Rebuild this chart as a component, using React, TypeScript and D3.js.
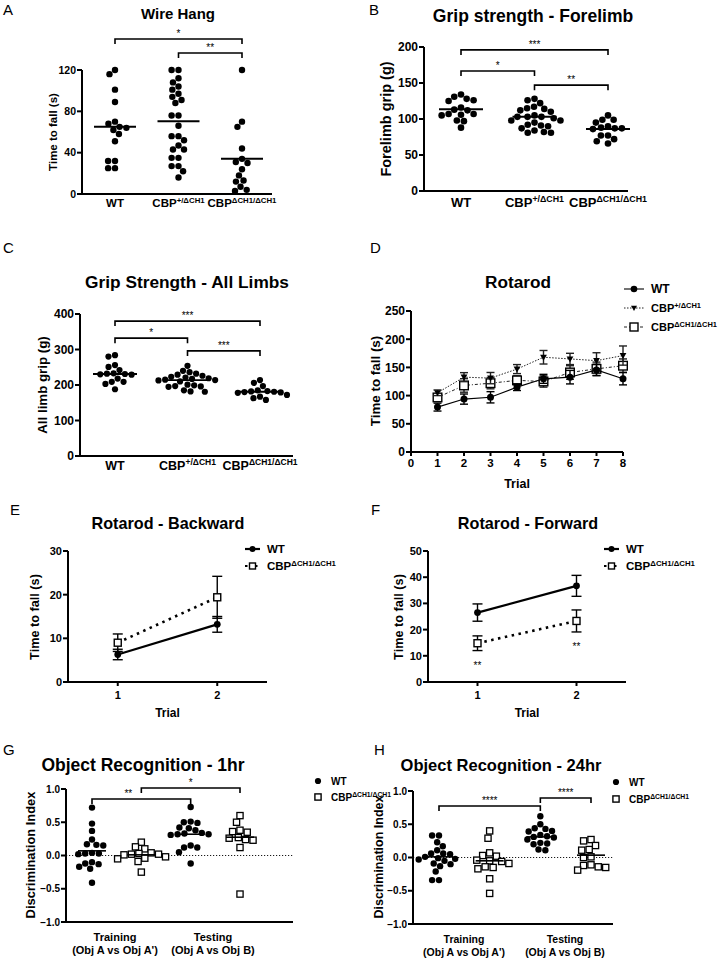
import React from "react";
import * as d3 from "d3";

const FONT = "'Liberation Sans', Arial, Helvetica, sans-serif";

// ---------- Data ----------
const genotypeBase = ["WT", "CBP", "CBP"];
const genotypeSup = ["", "+/ΔCH1", "ΔCH1/ΔCH1"];

// A: Wire hang (s)
const wireHangWT = [120, 116, 101, 89, 70, 68, 65, 64, 62, 58, 51, 32, 32, 25, 25];
const wireHangHet = [120, 120, 112, 108, 104, 101, 97, 94, 91, 88, 76, 76, 66, 56, 56, 52, 47, 43, 43, 35, 35, 27, 27, 22, 16];
const wireHangHom = [120, 70, 65, 44, 34, 31, 30, 24, 18, 13, 12, 7, 4, 3];
const wireHangMedian = [65, 70.5, 34];
const wireHangTicks = [0, 40, 80, 120];

// B: Forelimb grip (g)
const forelimbWT = [134, 131, 128, 126, 125, 116, 113, 112, 107, 107, 106, 105, 98, 97, 88];
const forelimbHet = [128, 126, 122, 117, 115, 114, 112, 110, 105, 103, 103, 103, 101, 98, 98, 95, 92, 91, 90, 87, 84, 82, 81, 81];
const forelimbHom = [105, 99, 99, 95, 90, 88, 87, 87, 86, 77, 77, 72, 69, 66];
const forelimbMedian = [113.5, 103, 86];
const forelimbTicks = [0, 50, 100, 150, 200];

// C: All limb grip (g)
const allLimbWT = [284, 280, 256, 251, 242, 233, 232, 231, 230, 229, 218, 209, 209, 203, 188];
const allLimbHet = [254, 240, 236, 232, 229, 226, 223, 221, 219, 217, 215, 214, 213, 210, 201, 199, 197, 196, 195, 185, 182, 181];
const allLimbHom = [214, 206, 197, 185, 183, 182, 181, 180, 179, 178, 172, 167, 163, 158];
const allLimbMedian = [231, 214, 181];
const allLimbTicks = [0, 100, 200, 300, 400];

// D: Rotarod
const rotarodTrials = [1, 2, 3, 4, 5, 6, 7, 8];
const rotarodWT = [79.6, 93.8, 97, 115, 129.7, 132.7, 145.6, 130];
const rotarodWTErr = [7, 9, 10, 6, 8, 12, 10, 11];
const rotarodHet = [105, 132.7, 131, 147, 168, 165, 162, 171];
const rotarodHetErr = [5, 8, 10, 8, 12, 10, 14, 17];
const rotarodHom = [96.7, 118, 122, 127, 125, 141, 147.4, 153];
const rotarodHomErr = [6, 12, 10, 8, 10, 12, 12, 12];
const rotarodYTicks = [0, 50, 100, 150, 200, 250];
const rotarodXTicks = [0, 1, 2, 3, 4, 5, 6, 7, 8];

// E: Rotarod backward
const shortTrials = [1, 2];
const backwardWT = [6.3, 13.2];
const backwardWTErr = [1.2, 1.8];
const backwardHom = [9, 19.4];
const backwardHomErr = [2, 4.8];
const backwardTicks = [0, 10, 20, 30];

// F: Rotarod forward
const forwardWT = [26.5, 36.7];
const forwardWTErr = [3.3, 4];
const forwardHom = [14.8, 23.3];
const forwardHomErr = [2.8, 4.2];
const forwardTicks = [0, 10, 20, 30, 40, 50];
const forwardSig = ["**", "**"];

// G: Object recognition 1 hr
const or1TrainWT = [0.72, 0.48, 0.37, 0.24, 0.17, 0.16, 0.15, 0.04, 0.03, 0.03, 0.02, -0.1, -0.12, -0.13, -0.17, -0.2, -0.41];
const or1TrainHom = [0.2, 0.13, 0.1, 0.04, 0.03, 0.02, 0.02, 0.01, -0.02, -0.04, -0.05, -0.09, -0.25];
const or1TestWT = [0.73, 0.51, 0.5, 0.49, 0.42, 0.41, 0.38, 0.34, 0.33, 0.32, 0.32, 0.31, 0.15, 0.12, 0.12, 0.05, -0.12];
const or1TestHom = [0.6, 0.5, 0.38, 0.36, 0.35, 0.27, 0.26, 0.24, 0.23, 0.12, -0.58];
const or1Median = [0.07, 0.01, 0.32, 0.275];

// H: Object recognition 24 hr
const or24TrainWT = [0.33, 0.33, 0.23, 0.17, 0.11, 0.06, 0.06, 0.05, 0.01, -0.01, -0.02, -0.03, -0.05, -0.09, -0.1, -0.13, -0.21, -0.34, -0.34];
const or24TrainHom = [0.4, 0.29, 0.07, 0.03, 0.02, -0.04, -0.05, -0.06, -0.09, -0.14, -0.15, -0.17, -0.32, -0.54];
const or24TestWT = [0.62, 0.5, 0.44, 0.43, 0.4, 0.39, 0.34, 0.32, 0.31, 0.3, 0.27, 0.22, 0.21, 0.2, 0.12, 0.11];
const or24TestHom = [0.27, 0.25, 0.18, 0.12, 0.11, 0.01, 0.0, -0.11, -0.12, -0.14, -0.15, -0.19];
const or24Median = [0.01, -0.05, 0.31, 0.035];
const orTicks = [-1.0, -0.5, 0.0, 0.5, 1.0];
const orPhase = ["Training", "Testing"];
const orPhaseSub = ["(Obj A vs Obj A')", "(Obj A vs Obj B)"];

// Significance brackets: [fromGroup, toGroup, level (data units), label, label dx]
const wireHangSig: [number, number, number, string, number][] = [[0, 2, 150, "*", 0], [1, 2, 136.5, "**", 0]];
const forelimbSig: [number, number, number, string, number][] = [[0, 2, 196, "***", 0], [0, 1, 166.7, "*", 0], [1, 2, 147, "**", 0]];
const allLimbSig: [number, number, number, string, number][] = [[0, 2, 380, "***", 0], [0, 1, 332, "*", 0], [1, 2, 296, "***", 0]];
const or1Sig: [number, number, number, string, number][] = [[0, 2, 0.85, "**", -13], [1, 3, 1.015, "*", 0]];
const or24Sig: [number, number, number, string, number][] = [[0, 2, 0.775, "****", 0], [2, 3, 0.895, "****", 0]];

// ---------- Helpers ----------
type Pt = { x: number; y: number };

function beeswarm(values: number[], y: (v: number) => number, cx: number, r: number): Pt[] {
  const d = 2 * r + 0.5;
  const placed: Pt[] = [];
  const out: Pt[] = new Array(values.length);
  const order = values.map((_, i) => i).sort((a, b) => values[b] - values[a]);
  for (const i of order) {
    const py = y(values[i]);
    const cands = [0];
    for (const p of placed) {
      const dy = Math.abs(p.y - py);
      if (dy < d) {
        const dx = Math.sqrt(d * d - dy * dy);
        cands.push(p.x - cx + dx, p.x - cx - dx);
      }
    }
    cands.sort((a, b) => Math.abs(a) - Math.abs(b) || a - b);
    let best = 0;
    for (const c of cands) {
      if (placed.every((p) => (p.x - (cx + c)) ** 2 + (p.y - py) ** 2 >= d * d - 0.01)) {
        best = c;
        break;
      }
    }
    const pt = { x: cx + best, y: py };
    placed.push(pt);
    out[i] = pt;
  }
  return out;
}

function Letter({ x, y, t }: { x: number; y: number; t: string }) {
  return (
    <text x={x} y={y} fontSize={15} fontFamily={FONT}>
      {t}
    </text>
  );
}

function Title({ x, y, t, size }: { x: number; y: number; t: string; size: number }) {
  return (
    <text x={x} y={y} fontSize={size} fontWeight="bold" textAnchor="middle" fontFamily={FONT}>
      {t}
    </text>
  );
}

function YLabel({ x, y, t, size }: { x: number; y: number; t: string; size: number }) {
  return (
    <text
      transform={`translate(${x},${y}) rotate(-90)`}
      fontSize={size}
      fontWeight="bold"
      textAnchor="middle"
      dy="0.35em"
      fontFamily={FONT}
    >
      {t}
    </text>
  );
}

function YAxis({
  scale,
  x,
  ticks,
  size,
  fmt,
}: {
  scale: d3.ScaleLinear<number, number>;
  x: number;
  ticks: number[];
  size: number;
  fmt: (v: number) => string;
}) {
  const [r0, r1] = scale.range();
  return (
    <g>
      <line x1={x} x2={x} y1={r0 + 1} y2={r1} stroke="#000" strokeWidth={2} />
      {ticks.map((t) => (
        <g key={t}>
          <line x1={x - 5} x2={x} y1={scale(t)} y2={scale(t)} stroke="#000" strokeWidth={2} />
          <text
            x={x - 6}
            y={scale(t)}
            dy="0.36em"
            textAnchor="end"
            fontSize={size}
            fontWeight="bold"
            fontFamily={FONT}
          >
            {fmt(t)}
          </text>
        </g>
      ))}
    </g>
  );
}

function XAxisLine({ x1, x2, y }: { x1: number; x2: number; y: number }) {
  return <line x1={x1 - 1} x2={x2} y1={y} y2={y} stroke="#000" strokeWidth={2} />;
}

function Geno({ x, y, i, size }: { x: number; y: number; i: number; size: number }) {
  return (
    <text x={x} y={y} fontSize={size} fontWeight="bold" textAnchor="middle" fontFamily={FONT}>
      {genotypeBase[i]}
      {genotypeSup[i] ? (
        <tspan fontSize={size * 0.68} dy={-size * 0.38}>
          {genotypeSup[i]}
        </tspan>
      ) : null}
    </text>
  );
}

function GenoStart({ x, y, i, size }: { x: number; y: number; i: number; size: number }) {
  return (
    <text x={x} y={y} fontSize={size} fontWeight="bold" fontFamily={FONT} dy="0.35em">
      {genotypeBase[i]}
      {genotypeSup[i] ? (
        <tspan fontSize={size * 0.68} dy={-size * 0.38}>
          {genotypeSup[i]}
        </tspan>
      ) : null}
    </text>
  );
}

function Brackets({
  sig,
  xs,
  y,
  leg,
  size,
}: {
  sig: [number, number, number, string, number][];
  xs: (i: number) => number;
  y: d3.ScaleLinear<number, number>;
  leg: number;
  size: number;
}) {
  return (
    <g>
      {sig.map(([a, b, lvl, label, dx], k) => {
        const x1 = xs(a);
        const x2 = xs(b);
        const yy = y(lvl);
        return (
          <g key={k}>
            <path
              d={`M${x1},${yy + leg}V${yy}H${x2}V${yy + leg}`}
              fill="none"
              stroke="#000"
              strokeWidth={1.6}
            />
            <text
              x={(x1 + x2) / 2 + dx}
              y={yy - 2}
              textAnchor="middle"
              fontSize={size}
              fontFamily={FONT}
              fill="#000"
            >
              {label}
            </text>
          </g>
        );
      })}
    </g>
  );
}

function Dots({
  values,
  y,
  cx,
  r,
  shape,
}: {
  values: number[];
  y: d3.ScaleLinear<number, number>;
  cx: number;
  r: number;
  shape: "circle" | "square";
}) {
  const pts = beeswarm(values, (v) => y(v), cx, shape === "square" ? r + 0.4 : r);
  return (
    <g>
      {pts.map((p, i) =>
        shape === "circle" ? (
          <circle key={i} cx={p.x} cy={p.y} r={r} fill="#000" />
        ) : (
          <rect
            key={i}
            x={p.x - r}
            y={p.y - r}
            width={2 * r}
            height={2 * r}
            fill="#fff"
            stroke="#000"
            strokeWidth={1.3}
          />
        )
      )}
    </g>
  );
}

function MedianLine({ cx, y, half, w }: { cx: number; y: number; half: number; w: number }) {
  return <line x1={cx - half} x2={cx + half} y1={y} y2={y} stroke="#000" strokeWidth={w} />;
}

type Marker = "circle" | "tri" | "square";

function MarkerShape({ x, y, m, s }: { x: number; y: number; m: Marker; s: number }) {
  if (m === "circle") return <circle cx={x} cy={y} r={s} fill="#000" />;
  if (m === "tri")
    return (
      <path
        d={`M${x - s},${y - s * 0.75}L${x + s},${y - s * 0.75}L${x},${y + s}Z`}
        fill="#000"
      />
    );
  return (
    <rect
      x={x - s}
      y={y - s}
      width={2 * s}
      height={2 * s}
      fill="#fff"
      stroke="#000"
      strokeWidth={1.4}
    />
  );
}

function Series({
  xs,
  means,
  errs,
  x,
  y,
  m,
  s,
  dash,
  lw,
  cap,
  color,
}: {
  xs: number[];
  means: number[];
  errs: number[];
  x: d3.ScaleLinear<number, number>;
  y: d3.ScaleLinear<number, number>;
  m: Marker;
  s: number;
  dash?: string;
  lw: number;
  cap: number;
  color: string;
}) {
  const line = d3
    .line<number>()
    .x((_, i) => x(xs[i]))
    .y((v) => y(v));
  return (
    <g>
      <path d={line(means) || ""} fill="none" stroke={color} strokeWidth={lw} strokeDasharray={dash} />
      {means.map((v, i) => {
        const px = x(xs[i]);
        const top = y(v + errs[i]);
        const bot = y(v - errs[i]);
        return (
          <g key={i} stroke={color} strokeWidth={1.4}>
            <line x1={px} x2={px} y1={top} y2={bot} />
            <line x1={px - cap} x2={px + cap} y1={top} y2={top} />
            <line x1={px - cap} x2={px + cap} y1={bot} y2={bot} />
          </g>
        );
      })}
      {means.map((v, i) => (
        <MarkerShape key={"m" + i} x={x(xs[i])} y={y(v)} m={m} s={s} />
      ))}
    </g>
  );
}

function LegendRow({
  x1,
  x2,
  y,
  m,
  s,
  dash,
  lw,
  tx,
  i,
  size,
  color,
}: {
  x1: number;
  x2: number;
  y: number;
  m: Marker;
  s: number;
  dash?: string;
  lw: number;
  tx: number;
  i: number;
  size: number;
  color: string;
}) {
  return (
    <g>
      {x2 > x1 ? (
        <line x1={x1} x2={x2} y1={y} y2={y} stroke={color} strokeWidth={lw} strokeDasharray={dash} />
      ) : null}
      <MarkerShape x={(x1 + x2) / 2} y={y} m={m} s={s} />
      <GenoStart x={tx} y={y} i={i} size={size} />
    </g>
  );
}

// ---------- Panels ----------
function ScatterPanel({
  groups,
  medians,
  x0,
  x1,
  axisL,
  axisR,
  yTop,
  yBot,
  domain,
  ticks,
  tickSize,
  fmt,
  sig,
  labelY,
  labelSize,
  r,
  half,
  medW,
}: {
  groups: number[][];
  medians: number[];
  x0: number;
  x1: number;
  axisL: number;
  axisR: number;
  yTop: number;
  yBot: number;
  domain: [number, number];
  ticks: number[];
  tickSize: number;
  fmt: (v: number) => string;
  sig: [number, number, number, string, number][];
  labelY: number;
  labelSize: number;
  r: number;
  half: number;
  medW: number;
}) {
  const y = d3.scaleLinear().domain(domain).range([yBot, yTop]);
  const xc = d3.scalePoint<number>().domain([0, 1, 2]).range([x0, x1]);
  const xs = (i: number) => xc(i) as number;
  return (
    <g>
      <Brackets sig={sig} xs={xs} y={y} leg={5} size={10} />
      {groups.map((g, i) => (
        <g key={i}>
          <Dots values={g} y={y} cx={xs(i)} r={r} shape="circle" />
          <MedianLine cx={xs(i)} y={y(medians[i])} half={half} w={medW} />
        </g>
      ))}
      <YAxis scale={y} x={axisL} ticks={ticks} size={tickSize} fmt={fmt} />
      <XAxisLine x1={axisL} x2={axisR} y={yBot} />
      {[0, 1, 2].map((i) => (
        <Geno key={i} x={xs(i)} y={labelY} i={i} size={labelSize} />
      ))}
    </g>
  );
}

function ORPanel({
  groups,
  medians,
  x0,
  x1,
  axisL,
  axisR,
  yTop,
  yBot,
  sig,
  phaseX,
  phaseY,
  phaseSize,
  legX,
  legTX,
  legY,
}: {
  groups: number[][];
  medians: number[];
  x0: number;
  x1: number;
  axisL: number;
  axisR: number;
  yTop: number;
  yBot: number;
  sig: [number, number, number, string, number][];
  phaseX: number[];
  phaseY: number;
  phaseSize: number;
  legX: number;
  legTX: number;
  legY: number[];
}) {
  const y = d3.scaleLinear().domain([-1, 1]).range([yBot, yTop]);
  const xc = d3.scalePoint<number>().domain([0, 1, 2, 3]).range([x0, x1]);
  const xs = (i: number) => xc(i) as number;
  return (
    <g>
      <line
        x1={axisL}
        x2={axisR}
        y1={y(0)}
        y2={y(0)}
        stroke="#000"
        strokeWidth={0.9}
        strokeDasharray="1.2,1.8"
      />
      <Brackets sig={sig} xs={xs} y={y} leg={5} size={10} />
      {groups.map((g, i) => (
        <g key={i}>
          <Dots values={g} y={y} cx={xs(i)} r={i % 2 === 0 ? 3.2 : 3.1} shape={i % 2 === 0 ? "circle" : "square"} />
          <MedianLine cx={xs(i)} y={y(medians[i])} half={14} w={1.6} />
        </g>
      ))}
      <YAxis scale={y} x={axisL} ticks={orTicks} size={10} fmt={d3.format(".1f")} />
      <XAxisLine x1={axisL} x2={axisR} y={yBot} />
      {orPhase.map((p, i) => (
        <g key={p}>
          <text x={phaseX[i]} y={phaseY} textAnchor="middle" fontSize={phaseSize} fontWeight="bold" fontFamily={FONT}>
            {p}
          </text>
          <text x={phaseX[i]} y={phaseY + 13} textAnchor="middle" fontSize={phaseSize} fontWeight="bold" fontFamily={FONT}>
            {orPhaseSub[i]}
          </text>
        </g>
      ))}
      <LegendRow x1={legX} x2={legX} y={legY[0]} m="circle" s={3.1} lw={0} tx={legTX} i={0} size={10} color="#000" />
      <LegendRow x1={legX} x2={legX} y={legY[1]} m="square" s={3.1} lw={0} tx={legTX} i={2} size={10} color="#000" />
    </g>
  );
}

function TwoTrialPanel({
  axisL,
  axisR,
  yTop,
  yBot,
  domain,
  ticks,
  wt,
  wtErr,
  hom,
  homErr,
  legX1,
  legTX,
  stars,
}: {
  axisL: number;
  axisR: number;
  yTop: number;
  yBot: number;
  domain: [number, number];
  ticks: number[];
  wt: number[];
  wtErr: number[];
  hom: number[];
  homErr: number[];
  legX1: number;
  legTX: number;
  stars?: string[];
}) {
  const x = d3.scaleLinear().domain([0.5, 2.5]).range([axisL, axisR]);
  const y = d3.scaleLinear().domain(domain).range([yBot, yTop]);
  return (
    <g>
      <Series xs={shortTrials} means={hom} errs={homErr} x={x} y={y} m="square" s={3.5} dash="2.5,4.5" lw={2.6} cap={5} color="#000" />
      <Series xs={shortTrials} means={wt} errs={wtErr} x={x} y={y} m="circle" s={3.4} lw={2.2} cap={5} color="#000" />
      {stars
        ? stars.map((s, i) => (
            <text
              key={i}
              x={x(shortTrials[i])}
              y={y(hom[i] - homErr[i]) + 18}
              textAnchor="middle"
              fontSize={10}
              fontFamily={FONT}
            >
              {s}
            </text>
          ))
        : null}
      <YAxis scale={y} x={axisL} ticks={ticks} size={11} fmt={(v) => String(v)} />
      <XAxisLine x1={axisL} x2={axisR} y={yBot} />
      {shortTrials.map((t) => (
        <g key={t}>
          <line x1={x(t)} x2={x(t)} y1={yBot} y2={yBot + 4} stroke="#000" strokeWidth={2} />
          <text x={x(t)} y={yBot + 17} textAnchor="middle" fontSize={11} fontWeight="bold" fontFamily={FONT}>
            {t}
          </text>
        </g>
      ))}
      <text x={(axisL + axisR) / 2} y={yBot + 35} textAnchor="middle" fontSize={12} fontWeight="bold" fontFamily={FONT}>
        Trial
      </text>
      <LegendRow x1={legX1} x2={legX1 + 15} y={549} m="circle" s={3} lw={2.2} tx={legTX} i={0} size={11.5} color="#000" />
      <LegendRow x1={legX1} x2={legX1 + 15} y={566} m="square" s={3} lw={2.2} dash="2.5,2.5" tx={legTX} i={2} size={11.5} color="#000" />
    </g>
  );
}

function RotarodPanel() {
  const x = d3.scaleLinear().domain([0, 8]).range([411, 623]);
  const y = d3.scaleLinear().domain([0, 250]).range([452, 311]);
  const grey = "#222";
  return (
    <g>
      <Series xs={rotarodTrials} means={rotarodHom} errs={rotarodHomErr} x={x} y={y} m="square" s={4.3} dash="3,2,1,2" lw={1} cap={4} color={grey} />
      <Series xs={rotarodTrials} means={rotarodHet} errs={rotarodHetErr} x={x} y={y} m="tri" s={3.4} dash="1.5,1.5" lw={1} cap={4} color={grey} />
      <Series xs={rotarodTrials} means={rotarodWT} errs={rotarodWTErr} x={x} y={y} m="circle" s={3.5} lw={1.1} cap={4} color="#000" />
      <YAxis scale={y} x={411} ticks={rotarodYTicks} size={12} fmt={(v) => String(v)} />
      <XAxisLine x1={411} x2={623} y={452} />
      {rotarodXTicks.map((t) => (
        <g key={t}>
          <line x1={x(t)} x2={x(t)} y1={452} y2={456} stroke="#000" strokeWidth={2} />
          <text x={x(t)} y={467} textAnchor="middle" fontSize={11.5} fontWeight="bold" fontFamily={FONT}>
            {t}
          </text>
        </g>
      ))}
      <text x={517} y={488} textAnchor="middle" fontSize={12.5} fontWeight="bold" fontFamily={FONT}>
        Trial
      </text>
      <LegendRow x1={624} x2={644} y={289} m="circle" s={3.3} lw={1.1} tx={651} i={0} size={12} color="#000" />
      <LegendRow x1={624} x2={644} y={308} m="tri" s={3} lw={1} dash="1.5,1.5" tx={651} i={1} size={11} color={grey} />
      <LegendRow x1={624} x2={644} y={327} m="square" s={4} lw={1} dash="3,2,1,2" tx={651} i={2} size={11} color={grey} />
    </g>
  );
}

export default function App() {
  return (
    <svg
      width={722}
      height={960}
      viewBox="0 0 722 960"
      style={{ position: "absolute", left: 0, top: 0, background: "#fff" }}
      fontFamily={FONT}
    >
      <rect x={0} y={0} width={722} height={960} fill="#fff" />

      {/* A */}
      <Letter x={3} y={15} t="A" />
      <Title x={178} y={19} t="Wire Hang" size={15} />
      <ScatterPanel
        groups={[wireHangWT, wireHangHet, wireHangHom]}
        medians={wireHangMedian}
        x0={115}
        x1={242}
        axisL={82}
        axisR={272}
        yTop={70}
        yBot={194}
        domain={[0, 120]}
        ticks={wireHangTicks}
        tickSize={10.5}
        fmt={(v) => String(v)}
        sig={wireHangSig}
        labelY={207}
        labelSize={11.5}
        r={3.2}
        half={21}
        medW={2}
      />
      <YLabel x={53} y={132} t="Time to fall (s)" size={11.5} />

      {/* B */}
      <Letter x={369} y={15} t="B" />
      <Title x={533} y={22} t="Grip strength - Forelimb" size={17.5} />
      <ScatterPanel
        groups={[forelimbWT, forelimbHet, forelimbHom]}
        medians={forelimbMedian}
        x0={461}
        x1={608}
        axisL={424}
        axisR={628}
        yTop={47}
        yBot={191}
        domain={[0, 200]}
        ticks={forelimbTicks}
        tickSize={12}
        fmt={(v) => String(v)}
        sig={forelimbSig}
        labelY={207}
        labelSize={13}
        r={3.3}
        half={22}
        medW={2}
      />
      <YLabel x={386} y={119} t="Forelimb grip (g)" size={14.5} />

      {/* C */}
      <Letter x={3} y={253} t="C" />
      <Title x={187} y={288} t="Grip Strength - All Limbs" size={17.3} />
      <ScatterPanel
        groups={[allLimbWT, allLimbHet, allLimbHom]}
        medians={allLimbMedian}
        x0={115}
        x1={260}
        axisL={80}
        axisR={293}
        yTop={314}
        yBot={456}
        domain={[0, 400]}
        ticks={allLimbTicks}
        tickSize={12}
        fmt={(v) => String(v)}
        sig={allLimbSig}
        labelY={470}
        labelSize={12.5}
        r={3.1}
        half={22}
        medW={1.8}
      />
      <YLabel x={42} y={385} t="All limb grip (g)" size={13.3} />

      {/* D */}
      <Letter x={370} y={253} t="D" />
      <Title x={518} y={288} t="Rotarod" size={17.2} />
      <RotarodPanel />
      <YLabel x={375} y={381} t="Time to fall (s)" size={13.4} />

      {/* E */}
      <Letter x={10} y={515} t="E" />
      <Title x={168} y={529} t="Rotarod - Backward" size={16.2} />
      <TwoTrialPanel
        axisL={68}
        axisR={267}
        yTop={551}
        yBot={682}
        domain={[0, 30]}
        ticks={backwardTicks}
        wt={backwardWT}
        wtErr={backwardWTErr}
        hom={backwardHom}
        homErr={backwardHomErr}
        legX1={245}
        legTX={267}
      />
      <YLabel x={35} y={617} t="Time to fall (s)" size={12.7} />

      {/* F */}
      <Letter x={371} y={515} t="F" />
      <Title x={528} y={529} t="Rotarod - Forward" size={16.2} />
      <TwoTrialPanel
        axisL={428}
        axisR={626}
        yTop={551}
        yBot={682}
        domain={[0, 50]}
        ticks={forwardTicks}
        wt={forwardWT}
        wtErr={forwardWTErr}
        hom={forwardHom}
        homErr={forwardHomErr}
        legX1={604}
        legTX={626}
        stars={forwardSig}
      />
      <YLabel x={399} y={617} t="Time to fall (s)" size={12.7} />

      {/* G */}
      <Letter x={3} y={755} t="G" />
      <Title x={143} y={771} t="Object Recognition - 1hr" size={17.5} />
      <ORPanel
        groups={[or1TrainWT, or1TrainHom, or1TestWT, or1TestHom]}
        medians={or1Median}
        x0={92}
        x1={240}
        axisL={66}
        axisR={293}
        yTop={789}
        yBot={922}
        sig={or1Sig}
        phaseX={[115, 213]}
        phaseY={941}
        phaseSize={11}
        legX={318}
        legTX={331}
        legY={[781, 797]}
      />
      <YLabel x={30} y={855} t="Discrimination Index" size={12.9} />

      {/* H */}
      <Letter x={374} y={755} t="H" />
      <Title x={501} y={771} t="Object Recognition - 24hr" size={16.5} />
      <ORPanel
        groups={[or24TrainWT, or24TrainHom, or24TestWT, or24TestHom]}
        medians={or24Median}
        x0={439}
        x1={591}
        axisL={413}
        axisR={613}
        yTop={791}
        yBot={924}
        sig={or24Sig}
        phaseX={[464, 565]}
        phaseY={943}
        phaseSize={10.5}
        legX={616}
        legTX={629}
        legY={[782, 799]}
      />
      <YLabel x={379} y={857} t="Discrimination Index" size={12.5} />
    </svg>
  );
}
